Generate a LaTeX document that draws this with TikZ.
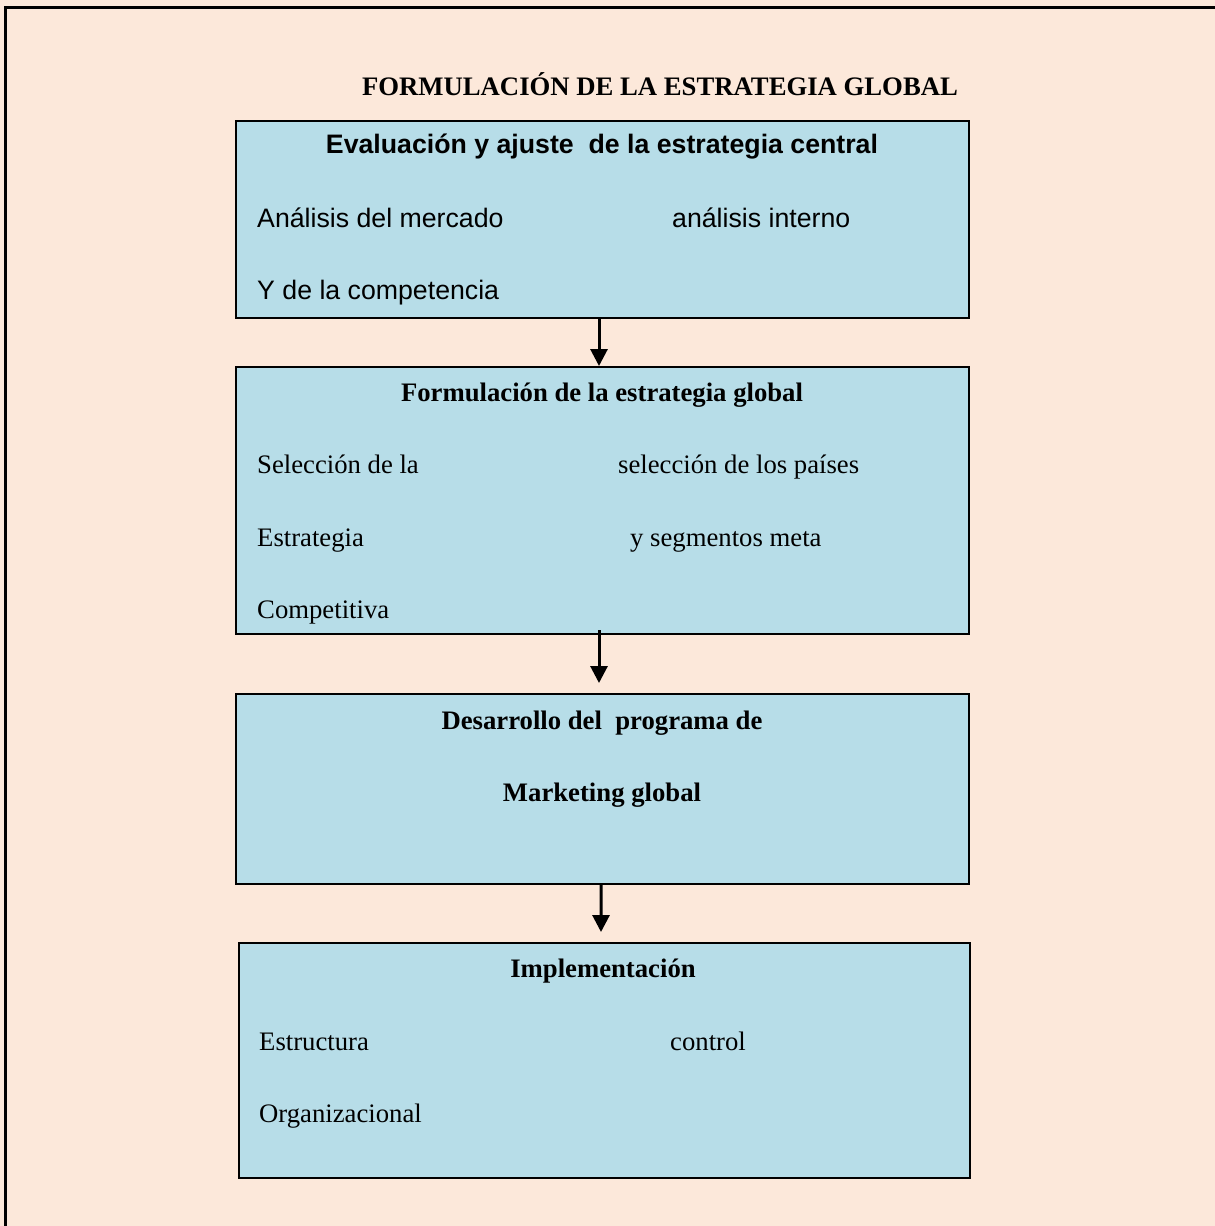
\documentclass[tikz,border=0pt]{standalone}
\usepackage{fontspec}
\setmainfont{Liberation Serif}
\newfontfamily\arialf{Liberation Sans}
\usetikzlibrary{arrows.meta}
\definecolor{bgbeige}{RGB}{252,232,218}
\definecolor{boxblue}{RGB}{183,221,232}
\tikzset{
  box/.style={draw=black, line width=2bp, fill=boxblue, anchor=north west, inner sep=0pt},
  txt/.style={inner sep=0pt, anchor=base west, font=\fontsize{26.8}{32}\selectfont},
  ctxt/.style={inner sep=0pt, anchor=base, font=\fontsize{26.8}{32}\selectfont\bfseries},
  stxt/.style={inner sep=0pt, anchor=base west, font=\fontsize{26.8}{32}\selectfont\arialf},
  sctxt/.style={inner sep=0pt, anchor=base, font=\fontsize{26.8}{32}\selectfont\arialf\bfseries},
  arr/.style={line width=3bp, -{Triangle[width=17bp,length=17bp]}}
}
\begin{document}
\begin{tikzpicture}[x=1bp,y=-1bp]
\useasboundingbox (0,0) rectangle (1215,1226);
\begin{scope}
\clip (0,0) rectangle (1215,1226);
\fill[bgbeige] (-20,-20) rectangle (1250,1250);
\draw[line width=3bp] (5,1260) -- (5,7) -- (1260,7);
\end{scope}
% boxes
\node[box, minimum width=733bp, minimum height=197bp] (b1) at (235,120) {};
\node[box, minimum width=733bp, minimum height=267bp] (b2) at (235,366) {};
\node[box, minimum width=733bp, minimum height=190bp] (b3) at (235,693) {};
\node[box, minimum width=731bp, minimum height=235bp] (b4) at (238,942) {};
% title
\node[ctxt] (title) at (660,95) {FORMULACIÓN DE LA ESTRATEGIA GLOBAL};
% box 1
\node[sctxt] (t1) at (602,153) {Evaluación y ajuste\ \ de la estrategia central};
\node[stxt] (t1a) at (257,227) {Análisis del mercado};
\node[stxt] (t1b) at (672,227) {análisis interno};
\node[stxt] (t1c) at (257,299) {Y de la competencia};
% box 2
\node[ctxt] (t2) at (602,401) {Formulación de la estrategia global};
\node[txt] (t2a) at (257,473) {Selección de la};
\node[txt] (t2b) at (618,473) {selección de los países};
\node[txt] (t2c) at (257,546) {Estrategia};
\node[txt] (t2d) at (630,546) {y segmentos meta};
\node[txt] (t2e) at (257,618) {Competitiva};
% box 3
\node[ctxt] (t3) at (602,729) {Desarrollo del\ \ programa de};
\node[ctxt] (t3b) at (602,801) {Marketing global};
% box 4
\node[ctxt] (t4) at (603,977) {Implementación};
\node[txt] (t4a) at (259,1050) {Estructura};
\node[txt] (t4b) at (670,1050) {control};
\node[txt] (t4c) at (259,1122) {Organizacional};
% arrows
\draw[arr] ([xshift=-3.5bp]b1.south) -- ([xshift=-3.5bp]b2.north);
\draw[arr] ([xshift=-3.5bp,yshift=5bp]b2.south) -- ([xshift=-3.5bp,yshift=10bp]b3.north);
\draw[arr] ([xshift=-1.5bp]b3.south) -- ([xshift=-3.5bp,yshift=10bp]b4.north);
\end{tikzpicture}
\end{document}
